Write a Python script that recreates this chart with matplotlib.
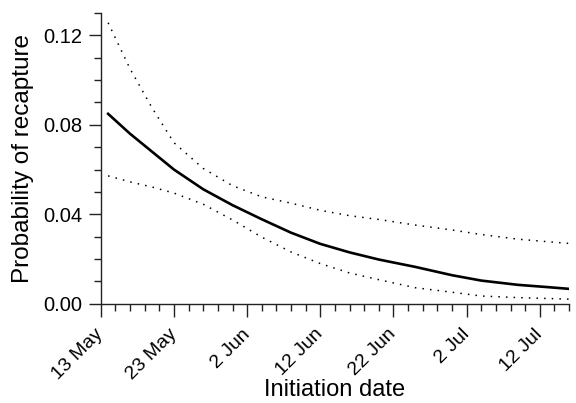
import matplotlib
matplotlib.use("Agg")
import matplotlib.pyplot as plt
import matplotlib.dates as mdates
import matplotlib.ticker as ticker
import pandas as pd

# days after 13 May
days = [1, 4, 7, 10, 14, 18, 22, 26, 30, 34, 38, 43, 48, 52, 57, 61, 64]
estimate = [0.0849, 0.0760, 0.0680, 0.0600, 0.0512, 0.0441, 0.0378, 0.0318, 0.0268,
            0.0230, 0.0198, 0.0165, 0.0128, 0.0104, 0.0085, 0.0075, 0.0067]
upper = [0.1256, 0.1050, 0.0876, 0.0720, 0.0605, 0.0528, 0.0478, 0.0450, 0.0418,
         0.0394, 0.0377, 0.0352, 0.0330, 0.0310, 0.0289, 0.0278, 0.0270]
lower = [0.0572, 0.0545, 0.0522, 0.0495, 0.0445, 0.0375, 0.0298, 0.0232, 0.0180,
         0.0138, 0.0108, 0.0072, 0.0052, 0.0035, 0.0028, 0.0024, 0.0021]
tick_labels = ["13 May", "23 May", "2 Jun", "12 Jun", "22 Jun", "2 Jul", "12 Jul"]

plt.rcParams['font.family'] = ['Liberation Sans', 'DejaVu Sans']

start = pd.Timestamp("2000-05-13")
dates = [start + pd.Timedelta(days=d) for d in days]
tick_dates = [pd.Timestamp(t + " 2000") for t in tick_labels]

fig = plt.figure(figsize=(5.76, 4.03), dpi=100)
ax = fig.add_axes([0.175, 0.246, 0.813, 0.722])

ax.plot(dates, estimate, color='black', lw=1.9)
ax.plot(dates, upper, color='black', lw=1.1, linestyle=(0, (1, 4)))
ax.plot(dates, lower, color='black', lw=1.1, linestyle=(0, (1, 4)))

ax.set_xlim(mdates.date2num(start), mdates.date2num(start + pd.Timedelta(days=64)))
ax.set_ylim(0, 0.13)

ax.xaxis.set_major_locator(ticker.FixedLocator(mdates.date2num(tick_dates)))
ax.xaxis.set_major_formatter(ticker.FixedFormatter(tick_labels))
ax.xaxis.set_minor_locator(ticker.MultipleLocator(2, offset=mdates.date2num(start) % 2))
ax.yaxis.set_major_locator(ticker.FixedLocator([0.0, 0.04, 0.08, 0.12]))
ax.yaxis.set_major_formatter(ticker.FormatStrFormatter('%.2f'))
ax.yaxis.set_minor_locator(ticker.MultipleLocator(0.01))

for s in ['top', 'right']:
    ax.spines[s].set_visible(False)
for s in ['left', 'bottom']:
    ax.spines[s].set_linewidth(1.0)
    ax.spines[s].set_color('#222222')

ax.tick_params(which='major', length=9, width=1, color='#222222', pad=4)
ax.tick_params(which='minor', length=5, width=1, color='#222222')
ax.tick_params(axis='y', labelsize=14.5)
ax.tick_params(axis='x', labelsize=14, pad=11)
plt.setp(ax.get_xticklabels(), rotation=45, ha='right', va='center',
         rotation_mode='anchor')

ax.set_xlabel("Initiation date", fontsize=17, va='baseline')
ax.xaxis.set_label_coords(0.5, -0.318)
ax.set_ylabel("Probability of recapture", fontsize=17.5, labelpad=7)

fig.savefig("out.png", dpi=100)
